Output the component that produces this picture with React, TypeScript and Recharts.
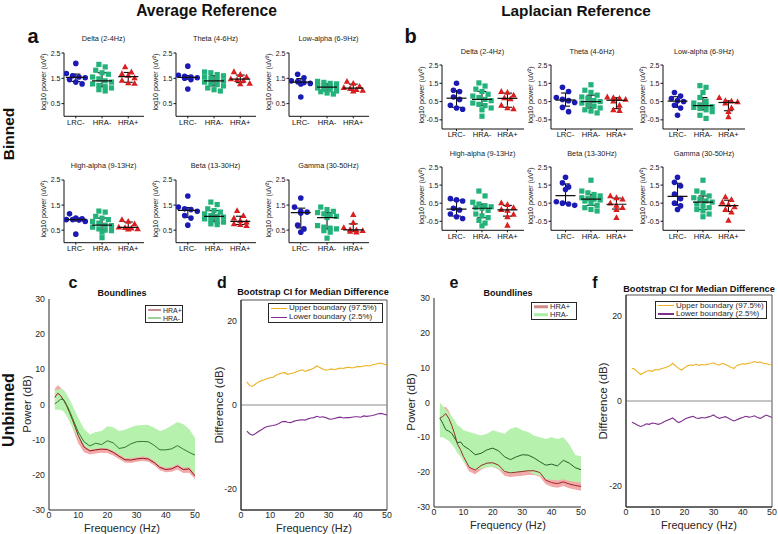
import React from 'react';
import {
  ScatterChart, Scatter, XAxis, YAxis, ErrorBar, ComposedChart, Line, Area,
  ReferenceLine, ReferenceArea,
} from 'recharts';

const FONT = '"Liberation Sans", Arial, Helvetica, sans-serif';

// ---------- Binned data (log10 power) ----------
const groupNames = ['LRC-', 'HRA-', 'HRA+'];
const groupColors = ['#1b1bb3', '#22b27a', '#d81e1e'];
const bandTitles = ['Delta (2-4Hz)', 'Theta (4-6Hz)', 'Low-alpha (6-9Hz)', 'High-alpha (9-13Hz)', 'Beta (13-30Hz)', 'Gamma (30-50Hz)'];

const avgDelta = [
  [2.09, 1.69, 1.60, 1.55, 1.52, 1.45, 1.35, 1.28],
  [2.05, 1.95, 1.82, 1.72, 1.66, 1.55, 1.48, 1.40, 1.35, 1.28, 1.22, 1.17, 1.12, 1.05, 1.00],
  [1.95, 1.75, 1.68, 1.62, 1.52, 1.42, 1.32, 1.30],
];
const avgTheta = [
  [1.98, 1.62, 1.58, 1.55, 1.52, 1.50, 1.45, 1.08],
  [1.75, 1.72, 1.65, 1.60, 1.55, 1.50, 1.45, 1.40, 1.35, 1.30, 1.25, 1.20, 1.12, 1.05, 1.00],
  [1.76, 1.65, 1.56, 1.48, 1.45, 1.42, 1.30, 1.28],
];
const avgLowAlpha = [
  [1.66, 1.52, 1.40, 1.37, 1.33, 1.30, 1.28, 0.76],
  [1.38, 1.34, 1.30, 1.28, 1.22, 1.20, 1.17, 1.15, 1.12, 1.08, 1.05, 1.00, 0.97, 0.92, 0.88],
  [1.38, 1.30, 1.18, 1.13, 1.10, 1.05, 1.02, 1.00],
];
const avgHighAlpha = [
  [1.15, 0.98, 0.95, 0.92, 0.92, 0.90, 0.85, 0.34],
  [1.26, 1.22, 1.05, 0.98, 0.92, 0.85, 0.78, 0.70, 0.68, 0.62, 0.55, 0.50, 0.48, 0.42, 0.20],
  [0.92, 0.85, 0.75, 0.62, 0.60, 0.58, 0.55, 0.54],
];
const avgBeta = [
  [1.86, 1.42, 1.35, 1.32, 1.25, 1.08, 0.98, 0.70],
  [1.62, 1.52, 1.35, 1.28, 1.22, 1.15, 1.08, 1.05, 1.02, 0.95, 0.88, 0.85, 0.82, 0.75, 0.72],
  [1.28, 1.08, 0.98, 0.88, 0.82, 0.75, 0.72, 0.68],
];
const avgGamma = [
  [1.78, 1.42, 1.25, 1.22, 1.18, 0.70, 0.55, 0.42],
  [1.42, 1.32, 1.25, 1.20, 1.15, 1.10, 1.05, 1.00, 0.68, 0.62, 0.58, 0.55, 0.48, 0.42, 0.18],
  [1.12, 0.80, 0.60, 0.52, 0.50, 0.48, 0.45, 0.42],
];

const lapDelta = [
  [1.50, 1.12, 1.05, 0.75, 0.62, 0.30, 0.15, 0.08],
  [1.52, 1.35, 1.18, 1.05, 0.90, 0.80, 0.72, 0.62, 0.55, 0.42, 0.35, 0.28, 0.15, 0.05, -0.30],
  [1.05, 1.00, 0.85, 0.70, 0.65, 0.30, 0.15, 0.10],
];
const lapTheta = [
  [1.28, 1.05, 0.72, 0.62, 0.55, 0.45, 0.18, -0.05],
  [1.42, 1.12, 1.00, 0.85, 0.75, 0.68, 0.55, 0.50, 0.42, 0.32, 0.25, 0.15, 0.05, -0.02, -0.12],
  [0.75, 0.72, 0.68, 0.62, 0.52, 0.30, 0.05, 0.00],
];
const lapLowAlpha = [
  [1.00, 0.80, 0.67, 0.55, 0.50, 0.30, 0.15, -0.25],
  [1.37, 1.28, 1.00, 0.72, 0.52, 0.42, 0.32, 0.28, 0.22, 0.18, 0.12, 0.05, -0.05, -0.25, -0.42],
  [0.72, 0.55, 0.52, 0.48, 0.42, 0.15, -0.05, -0.33],
];
const lapHighAlpha = [
  [0.75, 0.68, 0.62, 0.22, 0.12, -0.10, -0.25, -0.35],
  [1.17, 0.90, 0.55, 0.45, 0.35, 0.30, 0.25, 0.22, 0.10, -0.10, -0.20, -0.30, -0.45, -0.60, -0.75],
  [0.52, 0.42, 0.25, 0.15, 0.10, -0.12, -0.25, -0.72],
];
const lapBeta = [
  [1.93, 1.62, 1.40, 1.25, 0.58, 0.50, 0.45, 0.38],
  [1.77, 1.17, 1.07, 0.98, 0.90, 0.80, 0.75, 0.72, 0.68, 0.62, 0.50, 0.38, 0.25, 0.15, 0.07],
  [0.90, 0.80, 0.72, 0.50, 0.38, 0.25, 0.15, -0.30],
];
const lapGamma = [
  [1.93, 1.65, 1.45, 1.00, 0.75, 0.50, 0.35, 0.15],
  [1.77, 1.17, 1.07, 0.90, 0.80, 0.72, 0.62, 0.56, 0.45, 0.35, 0.25, 0.15, 0.07, -0.10, -0.25],
  [0.85, 0.70, 0.55, 0.42, 0.30, 0.15, 0.00, -0.45],
];

const avgTicks = [0.5, 1.5, 2.5];
const lapTicks = [-0.5, 0.5, 1.5, 2.5];

// ---------- Unbinned data (dB) ----------
const freqCE = [2, 3, 4, 5, 6, 7, 8, 9, 10, 12, 14, 16, 18, 20, 22, 24, 26, 28, 30, 32, 34, 36, 38, 40, 42, 44, 46, 48, 50];

const cNegLine = [0.2, 0.8, 1.5, 1.4, 0.0, -1.8, -3.8, -5.8, -7.8, -10.6, -11.8, -11.0, -11.4, -10.3, -10.9, -12.5, -12.2, -11.2, -10.6, -10.5, -10.6, -11.6, -12.9, -12.9, -12.6, -11.7, -12.7, -13.6, -14.4];
const cNegHi = [4.2, 4.2, 4.5, 4.2, 3.0, 1.5, -0.2, -2.0, -3.8, -7.0, -8.5, -7.8, -7.5, -6.2, -6.5, -7.5, -7.2, -6.5, -6.0, -5.8, -5.8, -6.6, -7.5, -7.0, -6.0, -5.0, -5.6, -7.0, -9.5];
const cNegLo = [-1.5, -1.5, -1.5, -2.0, -3.2, -4.8, -6.5, -8.0, -9.5, -11.8, -12.9, -12.6, -12.4, -12.5, -13.2, -14.2, -15.2, -15.3, -15.0, -14.8, -15.0, -16.0, -17.4, -18.0, -17.8, -17.0, -18.0, -17.8, -19.8];
const cPosLine = [2.0, 3.2, 2.5, 1.2, -0.3, -2.2, -4.3, -6.5, -8.8, -12.1, -13.2, -12.9, -12.7, -12.8, -13.6, -14.7, -15.7, -15.8, -15.5, -15.3, -15.5, -16.5, -17.9, -18.5, -18.3, -17.5, -18.5, -18.3, -20.3];
const cPosHi = [4.5, 5.5, 4.8, 3.5, 1.5, -0.5, -2.5, -4.8, -7.0, -10.6, -12.0, -11.8, -11.6, -11.7, -12.4, -13.4, -14.4, -14.5, -14.2, -14.0, -14.2, -15.2, -16.6, -17.2, -17.0, -16.2, -17.2, -17.0, -19.0];
const cPosLo = [-0.5, 0.5, 0.0, -0.5, -2.5, -4.5, -6.5, -8.8, -11.0, -13.6, -14.2, -13.9, -13.7, -13.8, -14.5, -15.5, -16.5, -16.6, -16.3, -16.1, -16.3, -17.3, -18.7, -19.3, -19.1, -18.5, -19.5, -19.4, -21.2];

const eNegLine = [-4.5, -6.0, -7.8, -8.2, -8.8, -10.2, -11.6, -11.3, -12.4, -13.5, -15.0, -14.6, -13.6, -13.1, -13.9, -15.6, -16.4, -15.6, -15.0, -15.1, -15.9, -17.0, -18.0, -17.7, -18.2, -16.6, -17.4, -18.7, -19.3];
const eNegHi = [0.0, -1.0, -2.0, -3.0, -4.0, -5.0, -6.5, -7.0, -8.0, -8.5, -9.0, -9.5, -9.0, -8.0, -8.5, -9.0, -7.5, -7.0, -8.0, -8.5, -9.5, -10.0, -10.5, -10.0, -10.5, -10.0, -12.0, -15.0, -15.5];
const eNegLo = [-10.0, -10.0, -10.5, -11.0, -12.0, -13.0, -14.5, -15.5, -17.0, -18.5, -19.4, -19.0, -18.6, -18.5, -19.0, -20.0, -20.5, -20.2, -19.8, -19.8, -20.6, -21.0, -22.0, -22.2, -22.4, -22.0, -22.5, -22.8, -23.0];
const ePosLine = [-4.5, -4.0, -3.2, -4.5, -6.5, -9.0, -12.0, -13.5, -15.5, -18.6, -19.4, -18.1, -17.4, -17.3, -18.0, -19.8, -20.2, -20.0, -19.8, -19.6, -19.6, -20.1, -22.3, -23.0, -23.3, -22.8, -23.4, -23.8, -24.1];
const ePosHi = [-2.0, -1.5, -1.2, -2.3, -4.3, -7.0, -10.5, -12.3, -14.3, -17.4, -18.2, -16.9, -16.2, -16.1, -16.8, -18.6, -19.0, -18.8, -18.6, -18.4, -18.4, -18.9, -21.1, -21.8, -22.1, -21.6, -22.2, -22.6, -22.9];
const ePosLo = [-7.0, -7.0, -6.0, -7.0, -9.0, -11.5, -14.0, -15.0, -16.8, -19.8, -20.6, -19.3, -18.6, -18.5, -19.2, -21.0, -21.4, -21.2, -21.0, -20.8, -20.8, -21.3, -23.5, -24.2, -24.5, -24.0, -24.6, -25.0, -25.3];

const freqDF = [2, 3, 4, 5, 6, 7, 8, 9, 10, 11, 12, 13, 14, 15, 16, 17, 18, 19, 20, 21, 22, 23, 24, 25, 26, 27, 28, 29, 30, 31, 32, 33, 34, 35, 36, 37, 38, 39, 40, 41, 42, 43, 44, 45, 46, 47, 48, 49, 50];
const dUpper = [5.5, 4.6, 4.5, 5.0, 5.5, 5.8, 6.0, 6.3, 6.5, 6.6, 7.1, 7.4, 7.6, 7.7, 7.3, 7.5, 7.6, 7.9, 8.2, 8.4, 8.0, 8.3, 8.5, 8.8, 9.3, 8.9, 8.6, 8.3, 8.4, 8.6, 8.4, 8.6, 8.8, 8.7, 8.9, 9.0, 8.8, 9.0, 9.2, 9.1, 9.3, 9.4, 9.3, 9.6, 9.7, 9.9, 10.0, 9.7, 9.5];
const dLower = [-6.2, -6.9, -7.2, -6.8, -6.3, -5.9, -5.4, -5.1, -5.0, -4.9, -4.7, -4.4, -4.0, -3.9, -4.1, -4.2, -3.9, -3.7, -3.6, -3.5, -3.6, -3.3, -3.1, -3.0, -2.7, -2.9, -2.8, -3.0, -3.3, -3.4, -3.2, -3.0, -2.9, -3.1, -3.0, -3.0, -2.9, -2.8, -2.8, -2.9, -2.6, -2.7, -2.6, -2.5, -2.3, -2.1, -2.0, -2.2, -2.4];
const fUpper = [7.7, 7.5, 6.8, 6.3, 6.6, 7.0, 7.2, 7.0, 7.4, 7.3, 7.6, 7.8, 8.0, 8.3, 8.9, 8.3, 7.7, 7.3, 7.8, 8.3, 8.5, 8.4, 8.7, 8.4, 8.6, 8.5, 8.7, 8.8, 9.0, 8.6, 8.5, 8.9, 8.6, 8.3, 7.9, 7.7, 8.4, 8.6, 8.8, 8.7, 8.9, 9.0, 9.3, 9.1, 9.2, 8.9, 8.8, 8.6, 8.5];
const fLower = [-5.0, -5.3, -5.7, -6.0, -5.8, -5.4, -5.5, -5.2, -5.3, -5.5, -5.3, -4.9, -4.6, -4.3, -4.0, -4.6, -5.1, -4.8, -4.3, -4.0, -3.8, -3.6, -4.0, -4.1, -3.9, -4.0, -3.8, -3.6, -3.3, -3.8, -4.1, -3.9, -3.7, -4.0, -4.4, -4.7, -4.4, -4.1, -3.9, -3.6, -3.8, -3.7, -3.5, -3.9, -4.1, -3.7, -3.3, -3.6, -3.9];

const freqTicks = [0, 10, 20, 30, 40, 50];
const powerTicks = [-30, -20, -10, 0, 10, 20, 30];
const diffTicks = [-20, 0, 20];

// ---------- helpers ----------
function quantile(sorted: number[], p: number) {
  const n = sorted.length;
  let pos = (n + 1) * p - 1;
  if (pos < 0) pos = 0;
  if (pos > n - 1) pos = n - 1;
  const lo = Math.floor(pos);
  const hi = Math.min(n - 1, lo + 1);
  return sorted[lo] + (sorted[hi] - sorted[lo]) * (pos - lo);
}

function spreadPoints(values: number[], center: number, bin: number) {
  const idx = values.map((_, i) => i).sort((a, b) => values[b] - values[a]);
  const out: { x: number; y: number }[] = [];
  let k = 0;
  while (k < idx.length) {
    const start = k;
    const v0 = values[idx[k]];
    while (k < idx.length && v0 - values[idx[k]] < bin && k - start < 4) k++;
    const n = k - start;
    for (let j = 0; j < n; j++) {
      out.push({ x: center + (j - (n - 1) / 2) * 0.24, y: values[idx[start + j]] });
    }
  }
  return out;
}

const makeDot = (g: number) => (props: any) => {
  const { cx, cy } = props;
  if (cx == null || cy == null) return <g />;
  const c = groupColors[g];
  if (g === 0) return <circle cx={cx} cy={cy} r={2.8} fill={c} />;
  if (g === 1) return <rect x={cx - 2.6} y={cy - 2.6} width={5.2} height={5.2} fill={c} />;
  return <polygon points={`${cx},${cy - 3.4} ${cx - 3.2},${cy + 2.4} ${cx + 3.2},${cy + 2.4}`} fill={c} />;
};

const medianShape = (props: any) => {
  const { cx, cy } = props;
  if (cx == null || cy == null) return <g />;
  return <line x1={cx - 10} x2={cx + 10} y1={cy} y2={cy} stroke="#111" strokeWidth={1.2} />;
};

function Txt({ x, y, size, bold, children, rotate, color }: any) {
  return (
    <div
      style={{
        position: 'absolute', left: x, top: y, fontSize: size, fontWeight: bold ? 700 : 400,
        lineHeight: 1, whiteSpace: 'nowrap', color: color || '#111',
        transform: `translate(-50%,-50%)${rotate ? ' rotate(-90deg)' : ''}`,
      }}
    >
      {children}
    </div>
  );
}

function DotPanel({ title, data, axisX, plotTop, plotH, plotW, yDomain, yTicks, xDomain, bin, titleY }: any) {
  const left = axisX - 22;
  const top = plotTop - 3;
  const width = 22 + plotW + 3;
  const height = 3 + plotH + 14;
  const summaries = data.map((vals: number[], g: number) => {
    const s = [...vals].sort((a, b) => a - b);
    const med = quantile(s, 0.5);
    const q1 = quantile(s, 0.25);
    const q3 = quantile(s, 0.75);
    return { x: g + 1, y: med, err: [med - q1, q3 - med] };
  });
  return (
    <>
      <Txt x={axisX + plotW / 2} y={titleY} size={7.3} color="#1a1a1a">{title}</Txt>
      <Txt x={axisX - 20} y={plotTop + plotH / 2 - 2} size={7.2} rotate color="#111">log10 power (uV²)</Txt>
      <div style={{ position: 'absolute', left, top }}>
        <ScatterChart width={width} height={height} margin={{ top: 3, right: 3, bottom: 0, left: 0 }}>
          <XAxis
            type="number" dataKey="x" domain={xDomain} ticks={[1, 2, 3]} interval={0} allowDataOverflow
            tickFormatter={(v: number) => groupNames[Math.round(v) - 1]}
            height={14} tickSize={2} tickMargin={1} stroke="#111"
            tick={{ fontSize: 7.6, fill: '#111' }}
          />
          <YAxis
            type="number" dataKey="y" domain={yDomain} ticks={yTicks} interval={0} allowDataOverflow
            tickFormatter={(v: number) => v.toFixed(1)}
            width={22} tickSize={2.5} tickMargin={1} stroke="#111"
            tick={{ fontSize: 7, fill: '#111' }}
          />
          {data.map((vals: number[], g: number) => (
            <Scatter key={g} data={spreadPoints(vals, g + 1, bin)} shape={makeDot(g)} isAnimationActive={false} />
          ))}
          <Scatter data={summaries} shape={medianShape} isAnimationActive={false}>
            <ErrorBar dataKey="err" direction="y" width={4.5} stroke="#111" strokeWidth={1.1} isAnimationActive={false} />
          </Scatter>
        </ScatterChart>
      </div>
    </>
  );
}

const AX = '#262626';

function BoundPanel({ freq, negLine, negLo, negHi, posLine, posLo, posHi, plotLeft, plotTop, plotW, plotH, posColor, negColor }: any) {
  const rows = freq.map((f: number, i: number) => ({
    f,
    negLine: negLine[i], negBand: [negLo[i], negHi[i]],
    posLine: posLine[i], posBand: [posLo[i], posHi[i]],
  }));
  return (
    <div style={{ position: 'absolute', left: plotLeft - 30, top: plotTop - 5 }}>
      <ComposedChart width={30 + plotW + 6} height={5 + plotH + 20} data={rows} margin={{ top: 5, right: 6, bottom: 0, left: 0 }}>
        <XAxis type="number" dataKey="f" domain={[0, 50]} ticks={freqTicks} interval={0} allowDataOverflow
          height={20} tickLine={false} tickSize={0} tickMargin={2} stroke={AX} tick={{ fontSize: 8.8, fill: AX }} />
        <YAxis type="number" domain={[-30, 30]} ticks={powerTicks} interval={0} allowDataOverflow
          width={30} tickLine={false} tickSize={0} tickMargin={4} stroke={AX} tick={{ fontSize: 8.8, fill: AX }} />
        <Area type="linear" dataKey="posBand" stroke="none" fill="#f3a9a9" fillOpacity={1} isAnimationActive={false} />
        <Line type="linear" dataKey="posLine" stroke={posColor} strokeWidth={1} dot={false} isAnimationActive={false} />
        <Area type="linear" dataKey="negBand" stroke="none" fill="#b7f1ae" fillOpacity={1} isAnimationActive={false} />
        <Line type="linear" dataKey="negLine" stroke={negColor} strokeWidth={1} dot={false} isAnimationActive={false} />
      </ComposedChart>
    </div>
  );
}

function CIPanel({ upper, lower, plotLeft, plotTop, plotW, plotH }: any) {
  const rows = freqDF.map((f, i) => ({ f, upper: upper[i], lower: lower[i] }));
  return (
    <div style={{ position: 'absolute', left: plotLeft - 30, top: plotTop - 5 }}>
      <ComposedChart width={30 + plotW + 6} height={5 + plotH + 20} data={rows} margin={{ top: 5, right: 6, bottom: 0, left: 0 }}>
        <XAxis type="number" dataKey="f" domain={[0, 50]} ticks={freqTicks} interval={0} allowDataOverflow
          height={20} tickLine={false} tickSize={0} tickMargin={2} stroke={AX} tick={{ fontSize: 8.8, fill: AX }} />
        <YAxis type="number" domain={[-25, 25]} ticks={diffTicks} interval={0} allowDataOverflow
          width={30} tickLine={false} tickSize={0} tickMargin={4} stroke={AX} tick={{ fontSize: 8.8, fill: AX }} />
        <ReferenceArea x1={0} x2={50} y1={-25} y2={25} fill="#fff" fillOpacity={0} stroke={AX} strokeWidth={0.8} />
        <ReferenceLine y={0} stroke="#8a8a8a" strokeWidth={1} />
        <Line type="linear" dataKey="upper" stroke="#edb120" strokeWidth={1.1} dot={false} isAnimationActive={false} />
        <Line type="linear" dataKey="lower" stroke="#7e2f8e" strokeWidth={1.1} dot={false} isAnimationActive={false} />
      </ComposedChart>
    </div>
  );
}

function LegendBox({ x, y, w, h, items, fontSize, swW, swH }: any) {
  return (
    <div style={{ position: 'absolute', left: x, top: y, width: w, height: h, border: `0.8px solid ${AX}`, background: '#fff', boxSizing: 'border-box' }}>
      {items.map((it: any, i: number) => (
        <div key={i} style={{ position: 'absolute', left: 2, top: (i === 0 ? 0.27 : 0.72) * h - 1, transform: 'translateY(-50%)', display: 'flex', alignItems: 'center' }}>
          <div style={{ width: swW, height: swH, background: it.color, marginRight: 2 }} />
          <span style={{ fontSize, lineHeight: 1, color: AX, whiteSpace: 'nowrap' }}>{it.label}</span>
        </div>
      ))}
    </div>
  );
}

const avgPanels = [avgDelta, avgTheta, avgLowAlpha, avgHighAlpha, avgBeta, avgGamma];
const lapPanels = [lapDelta, lapTheta, lapLowAlpha, lapHighAlpha, lapBeta, lapGamma];

export default function App() {
  const avgAxes = [63.5, 175.5, 288.5];
  const avgTops = [52.7, 180];
  const avgH = [63.3, 62.7];
  const avgTitleY = [39, 166];
  const lapAxes = [441.5, 551, 663];
  const lapTops = [65, 166.7];
  const lapH = [64, 63.3];
  const lapTitleY = [52, 154];

  return (
    <div style={{ position: 'absolute', left: 0, top: 0, width: 778, height: 534, background: '#fff', fontFamily: FONT, overflow: 'hidden' }}>
      <Txt x={206.5} y={11.3} size={15.6} bold>Average Reference</Txt>
      <Txt x={576} y={11.3} size={15.4} bold>Laplacian Reference</Txt>
      <Txt x={33} y={36} size={20} bold>a</Txt>
      <Txt x={410.5} y={36} size={20} bold>b</Txt>
      <Txt x={9} y={134} size={15.5} bold rotate>Binned</Txt>
      <Txt x={9} y={410} size={16} bold rotate>Unbinned</Txt>

      {avgPanels.map((d, i) => (
        <DotPanel key={'a' + i} title={bandTitles[i]} data={d}
          axisX={avgAxes[i % 3]} plotTop={avgTops[Math.floor(i / 3)]} plotH={avgH[Math.floor(i / 3)]} plotW={80}
          titleY={avgTitleY[Math.floor(i / 3)]} yDomain={[0, 2.5]} yTicks={avgTicks} xDomain={[0.55, 3.6]} bin={0.2} />
      ))}
      {lapPanels.map((d, i) => (
        <DotPanel key={'b' + i} title={bandTitles[i]} data={d}
          axisX={lapAxes[i % 3]} plotTop={lapTops[Math.floor(i / 3)]} plotH={lapH[Math.floor(i / 3)]} plotW={82}
          titleY={lapTitleY[Math.floor(i / 3)]} yDomain={[-1, 2.5]} yTicks={lapTicks} xDomain={[0.43, 3.65]} bin={0.28} />
      ))}

      {/* Unbinned panels */}
      <BoundPanel freq={freqCE} negLine={cNegLine} negLo={cNegLo} negHi={cNegHi} posLine={cPosLine} posLo={cPosLo} posHi={cPosHi}
        plotLeft={49} plotTop={299} plotW={146} plotH={211} posColor="#8c1c1c" negColor="#2f7a2f" />
      <CIPanel upper={dUpper} lower={dLower} plotLeft={241} plotTop={300} plotW={146} plotH={210} />
      <BoundPanel freq={freqCE} negLine={eNegLine} negLo={eNegLo} negHi={eNegHi} posLine={ePosLine} posLo={ePosLo} posHi={ePosHi}
        plotLeft={434} plotTop={298} plotW={147} plotH={209} posColor="#9a2a2a" negColor="#2a5e2a" />
      <CIPanel upper={fUpper} lower={fLower} plotLeft={626} plotTop={295} plotW={146} plotH={212} />

      <Txt x={73} y={283} size={16} bold>c</Txt>
      <Txt x={222} y={283} size={16} bold>d</Txt>
      <Txt x={454} y={283} size={16} bold>e</Txt>
      <Txt x={595} y={283} size={16} bold>f</Txt>
      <Txt x={122} y={293} size={9} bold>Boundlines</Txt>
      <Txt x={313} y={293} size={9.2} bold>Bootstrap CI for Median Difference</Txt>
      <Txt x={508} y={293} size={9} bold>Boundlines</Txt>
      <Txt x={699} y={289.5} size={9.2} bold>Bootstrap CI for Median Difference</Txt>

      <Txt x={27.5} y={404} size={11.5} rotate color={AX}>Power (dB)</Txt>
      <Txt x={220} y={405} size={11.5} rotate color={AX}>Difference (dB)</Txt>
      <Txt x={412} y={402} size={11.5} rotate color={AX}>Power (dB)</Txt>
      <Txt x={604} y={401} size={11.5} rotate color={AX}>Difference (dB)</Txt>
      <Txt x={122} y={527.5} size={11} color={AX}>Frequency (Hz)</Txt>
      <Txt x={314} y={527.5} size={11} color={AX}>Frequency (Hz)</Txt>
      <Txt x={508} y={525} size={11} color={AX}>Frequency (Hz)</Txt>
      <Txt x={699} y={525} size={11} color={AX}>Frequency (Hz)</Txt>

      <LegendBox x={145} y={305} w={38} h={18} fontSize={7} swW={13} swH={1}
        items={[{ label: 'HRA+', color: '#8c1c1c' }, { label: 'HRA-', color: '#3aa03a' }]} />
      <LegendBox x={268} y={303} w={115} h={20} fontSize={8} swW={16} swH={1.2}
        items={[{ label: 'Upper boundary (97.5%)', color: '#edb120' }, { label: 'Lower boundary (2.5%)', color: '#7e2f8e' }]} />
      <LegendBox x={531} y={302} w={46} h={18} fontSize={7.5} swW={14} swH={2.5}
        items={[{ label: 'HRA+', color: '#d08a8a' }, { label: 'HRA-', color: '#a9eca2' }]} />
      <LegendBox x={655} y={301} w={112} h={18} fontSize={8} swW={16} swH={1.2}
        items={[{ label: 'Upper boundary (97.5%)', color: '#edb120' }, { label: 'Lower boundary (2.5%)', color: '#7e2f8e' }]} />
    </div>
  );
}
